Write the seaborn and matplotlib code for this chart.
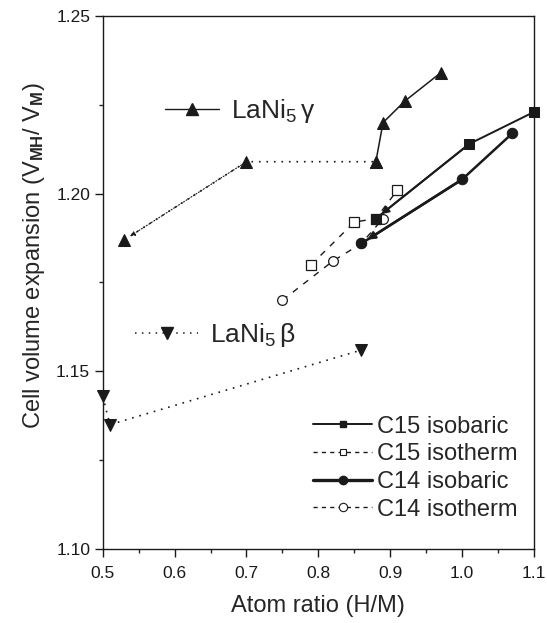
import matplotlib
matplotlib.use("Agg")
import matplotlib.pyplot as plt
import seaborn as sns
from matplotlib.lines import Line2D

sns.set_theme(style="ticks")
plt.rcParams['font.family'] = ['Liberation Sans', 'DejaVu Sans']
plt.rcParams['mathtext.fontset'] = 'custom'
plt.rcParams['mathtext.rm'] = 'Liberation Sans'
plt.rcParams['mathtext.it'] = 'Liberation Sans:italic'
plt.rcParams['mathtext.bf'] = 'Liberation Sans:bold'

# ---- data ----
gamma_x = [0.53, 0.70, 0.88, 0.89, 0.92, 0.97]
gamma_y = [1.187, 1.209, 1.209, 1.220, 1.226, 1.234]
beta_x = [0.50, 0.51, 0.86]
beta_y = [1.143, 1.135, 1.156]
c15_isobaric_x = [1.10, 1.01, 0.88]
c15_isobaric_y = [1.223, 1.214, 1.193]
c15_isotherm_x = [0.79, 0.85, 0.88, 0.91]
c15_isotherm_y = [1.180, 1.192, 1.193, 1.201]
c14_isobaric_x = [1.07, 1.00, 0.86]
c14_isobaric_y = [1.217, 1.204, 1.186]
c14_isotherm_x = [0.75, 0.82, 0.86, 0.89]
c14_isotherm_y = [1.170, 1.181, 1.186, 1.193]
x_ticks = [0.5, 0.6, 0.7, 0.8, 0.9, 1.0, 1.1]
y_ticks = [1.10, 1.15, 1.20, 1.25]

DOT = (0, (1, 3.5))
DASH = (0, (4.5, 5))

fig = plt.figure(figsize=(5.47, 6.23), dpi=100)
ax = fig.add_axes([0.1878, 0.1188, 0.7884, 0.8555])

def line(x, y, **kw):
    sns.lineplot(x=x, y=y, ax=ax, sort=False, estimator=None, color='k',
                 clip_on=False, **kw)

# LaNi5 gamma: dotted transition then solid
line(gamma_x[:3], gamma_y[:3], linestyle=DOT, linewidth=1.2, marker='^',
     markersize=8, markeredgecolor='k', markerfacecolor='k')
line(gamma_x[2:], gamma_y[2:], linestyle='-', linewidth=1.1, marker='^',
     markersize=8, markeredgecolor='k', markerfacecolor='k')
# LaNi5 beta
line(beta_x, beta_y, linestyle=DOT, linewidth=1.2, marker='v',
     markersize=8, markeredgecolor='k', markerfacecolor='k')
# isotherms
line(c15_isotherm_x, c15_isotherm_y, linestyle=DASH, linewidth=1.0,
     marker='s', markersize=7, markerfacecolor='white', markeredgecolor='k',
     markeredgewidth=0.9)
line(c14_isotherm_x, c14_isotherm_y, linestyle=DASH, linewidth=1.0,
     marker='o', markersize=7, markerfacecolor='white', markeredgecolor='k',
     markeredgewidth=0.9)
# isobarics
line(c15_isobaric_x, c15_isobaric_y, linestyle='-', linewidth=1.4, marker='s',
     markersize=7, markerfacecolor='k', markeredgecolor='k')
line(c14_isobaric_x, c14_isobaric_y, linestyle='-', linewidth=1.8, marker='o',
     markersize=7.5, markerfacecolor='k', markeredgecolor='k')

# arrowheads
for xs, ys, lw in [(c15_isobaric_x, c15_isobaric_y, 1.4),
                   (c14_isobaric_x, c14_isobaric_y, 1.8)]:
    ax.annotate("", xy=(xs[2], ys[2]), xytext=(xs[1], ys[1]),
                arrowprops=dict(arrowstyle='-|>', color='k', lw=lw,
                                shrinkA=0, shrinkB=5, mutation_scale=11))
ax.annotate("", xy=(gamma_x[0], gamma_y[0]), xytext=(gamma_x[1], gamma_y[1]),
            arrowprops=dict(arrowstyle='-|>', color='k', lw=0.8, linestyle=':',
                            shrinkA=0, shrinkB=5, mutation_scale=7))

ax.set_xlim(0.5, 1.1)
ax.set_ylim(1.10, 1.25)
ax.set_xticks(x_ticks)
ax.set_xticklabels([f"{v:.1f}" for v in x_ticks])
ax.set_yticks(y_ticks)
ax.set_yticklabels([f"{v:.2f}" for v in y_ticks])
ax.set_xticks([0.55, 0.65, 0.75, 0.85, 0.95, 1.05], minor=True)
ax.set_yticks([1.125, 1.175, 1.225], minor=True)
ax.tick_params(which='major', direction='out', length=6, width=1,
               labelsize=12.5, colors='k', pad=3)
ax.tick_params(axis='x', which='major', pad=6)
ax.tick_params(which='minor', direction='out', length=3, width=1)
for s in ax.spines.values():
    s.set_visible(True)
    s.set_linewidth(1.0)
    s.set_color('k')

ax.set_xlabel("Atom ratio (H/M)", fontsize=17, labelpad=10)
ax.set_ylabel(r"Cell volume expansion (V$_{\mathbf{MH}}$/ V$_{\mathbf{M}}$)",
              fontsize=17)
ax.yaxis.set_label_coords(-0.13, 0.55)

# lower-right legend
h_c15b = Line2D([], [], color='k', lw=1.4, marker='s', markersize=5)
h_c15t = Line2D([], [], color='k', lw=1.0, linestyle=(0, (3, 3)), marker='s',
                markersize=5, markerfacecolor='white', markeredgewidth=0.8)
h_c14b = Line2D([], [], color='k', lw=2.4, marker='o', markersize=6)
h_c14t = Line2D([], [], color='k', lw=1.0, linestyle=(0, (3, 3)), marker='o',
                markersize=6, markerfacecolor='white', markeredgewidth=0.8)
leg = ax.legend([h_c15b, h_c15t, h_c14b, h_c14t],
                ["C15 isobaric", "C15 isotherm", "C14 isobaric", "C14 isotherm"],
                loc='upper left', bbox_to_anchor=(0.4876, 0.25), frameon=False,
                fontsize=17, handlelength=2.5, handletextpad=0.2,
                labelspacing=0.24, borderaxespad=0.0, borderpad=0.0)
ax.add_artist(leg)

h_g = Line2D([], [], color='k', lw=1.0, marker='^', markersize=8)
leg_g = ax.legend([h_g], [r"LaNi$_5\,$γ"], loc='center left',
                  bbox_to_anchor=(0.144, 0.822), frameon=False, fontsize=19,
                  handlelength=2.05, handletextpad=0.45, borderaxespad=0.0,
                  borderpad=0.0)
ax.add_artist(leg_g)
h_b = Line2D([], [], color='k', lw=1.1, linestyle=DOT, marker='v', markersize=8)
leg_b = ax.legend([h_b], [r"LaNi$_5\,$β"], loc='center left',
                  bbox_to_anchor=(0.075, 0.401), frameon=False, fontsize=19,
                  handlelength=2.4, handletextpad=0.45, borderaxespad=0.0,
                  borderpad=0.0)

fig.savefig("out.png", dpi=100)
